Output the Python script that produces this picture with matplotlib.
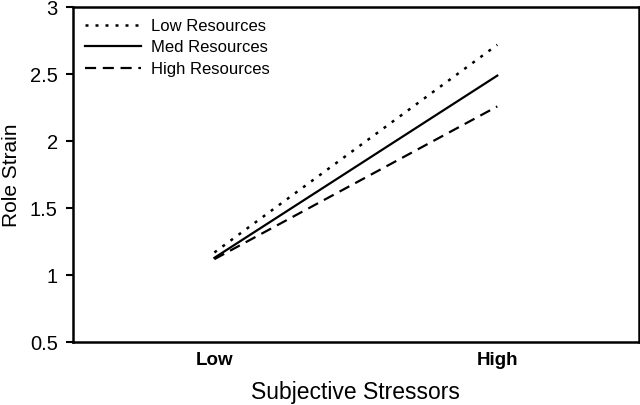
import matplotlib
matplotlib.use("Agg")
import matplotlib.pyplot as plt

plt.rcParams['font.family'] = ['Liberation Sans', 'DejaVu Sans']

categories = ["Low", "High"]
low_res = [1.17, 2.72]
med_res = [1.13, 2.49]
high_res = [1.12, 2.26]
yticks = [0.5, 1, 1.5, 2, 2.5, 3]
ytick_labels = ["0.5", "1", "1.5", "2", "2.5", "3"]

fig = plt.figure(figsize=(6.4, 4.05), dpi=100)
ax = fig.add_axes([0.114, 0.155, 0.884, 0.827])
x = [1, 2]
ax.plot(x, low_res, color='black', lw=1.8, linestyle=(0, (1.2, 2.8)), label="Low Resources")
ax.plot(x, med_res, color='black', lw=1.6, linestyle='-', label="Med Resources")
ax.plot(x, high_res, color='black', lw=1.6, linestyle=(0, (5, 3)), label="High Resources")

ax.set_xlim(0.5, 2.5)
ax.set_ylim(0.5, 3)
ax.set_xticks(x)
ax.set_xticklabels(categories, fontweight='bold', fontsize=13.5)
ax.tick_params(axis='x', length=0, pad=7)
ax.set_yticks(yticks)
ax.set_yticklabels(ytick_labels, fontsize=14.5)
ax.tick_params(axis='y', length=5, width=1.5, direction='out', pad=6)
for s in ax.spines.values():
    s.set_linewidth(1.8)
ax.set_ylabel("Role Strain", fontsize=15, labelpad=6)
ax.set_xlabel("Subjective Stressors", fontsize=16.5, labelpad=9)

leg = ax.legend(loc='upper left', frameon=False, fontsize=12, handlelength=3.4,
                handletextpad=0.6, labelspacing=0.38, borderaxespad=0.3,
                bbox_to_anchor=(0.0, 1.0))

fig.savefig("out.png", dpi=100)
